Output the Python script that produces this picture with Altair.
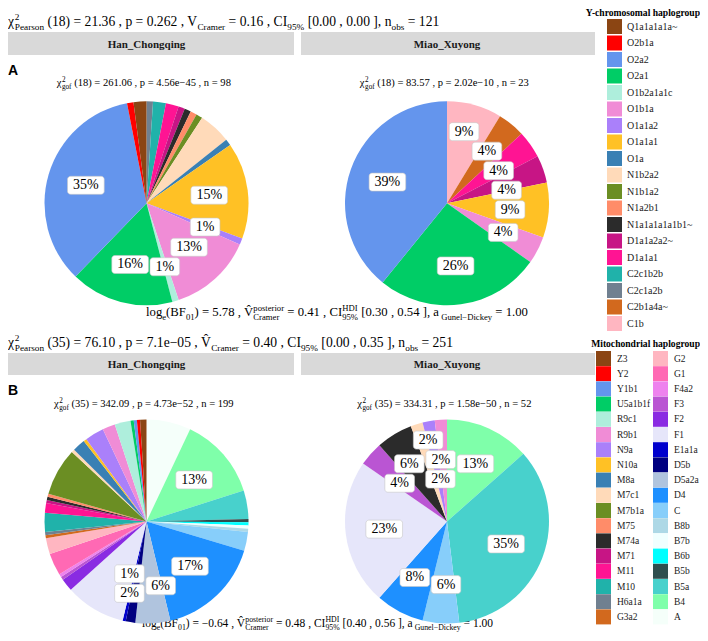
import math
import altair as alt
import pandas as pd

SERIF = "Liberation Serif"
SANS = "Liberation Sans"

# ---------------- data ----------------
groups = ["Han_Chongqing", "Miao_Xuyong"]
panel_tags = ["A", "B"]
legend_titles = ["Y-chromosomal haplogroup", "Mitochondrial haplogroup"]

y_haplogroups = ["Q1a1a1a1a~", "O2b1a", "O2a2", "O2a1", "O1b2a1a1c", "O1b1a", "O1a1a2",
                 "O1a1a1", "O1a", "N1b2a2", "N1b1a2", "N1a2b1", "N1a1a1a1a1b1~",
                 "D1a1a2a2~", "D1a1a1", "C2c1b2b", "C2c1a2b", "C2b1a4a~", "C1b"]
y_colors = ["#8B4513", "#FF0000", "#6495ED", "#00CD66", "#AEEEDC", "#F08CD6", "#AA80FA",
            "#FFC125", "#3A80B4", "#FFDAB9", "#6B8E23", "#FF8C69", "#2B2B2B",
            "#C71585", "#FF1493", "#20B2AA", "#708090", "#D2691E", "#FFB6C1"]
y_han_counts = [2, 1, 34, 16, 1, 13, 1, 15, 1, 5, 1, 1, 1, 1, 2, 2, 1, 0, 0]
y_miao_counts = [0, 0, 9, 6, 0, 1, 0, 2, 0, 0, 0, 0, 0, 1, 1, 0, 0, 1, 2]
y_han_labelled = ["O2a2", "O2a1", "O1b1a", "O1a1a1", "O1a1a2", "O1b2a1a1c"]
y_miao_labelled = ["C1b", "C2b1a4a~", "D1a1a1", "D1a1a2a2~", "O1a1a1", "O1b1a", "O2a1", "O2a2"]

mt_haplogroups = ["Z3", "Y2", "Y1b1", "U5a1b1f", "R9c1", "R9b1", "N9a", "N10a", "M8a",
                  "M7c1", "M7b1a", "M75", "M74a", "M71", "M11", "M10", "H6a1a", "G3a2",
                  "G2", "G1", "F4a2", "F3", "F2", "F1", "E1a1a", "D5b", "D5a2a", "D4",
                  "C", "B8b", "B7b", "B6b", "B5b", "B5a", "B4", "A"]
mt_colors = ["#8B4513", "#FF0000", "#6495ED", "#00CD66", "#AEEEDC", "#F08CD6", "#AA80FA",
             "#FFC125", "#3A80B4", "#FFDAB9", "#6B8E23", "#FF8C69", "#2B2B2B", "#C71585",
             "#FF1493", "#20B2AA", "#708090", "#D2691E", "#FFB6C1", "#FF69B4", "#EE82EE",
             "#BA55D3", "#8A2BE2", "#E6E6FA", "#0000CD", "#000080", "#B0C4DE", "#1E90FF",
             "#87CEFA", "#ADD8E6", "#F0FFFF", "#00FFFF", "#2F4F4F", "#48D1CC", "#7FFFAA",
             "#F5FFFA"]
mt_han_counts = [2, 1, 1, 1, 5, 4, 6, 1, 4, 1, 15, 1, 1, 1, 3, 6, 1, 1,
                 5, 7, 1, 1, 4, 19, 1, 3, 11, 33, 6, 1, 1, 1, 1, 9, 26, 14]
mt_miao_counts = [0, 0, 0, 0, 0, 1, 1, 0, 0, 1, 0, 0, 3, 0, 0, 0, 0, 0,
                  0, 0, 0, 2, 0, 12, 0, 0, 0, 4, 3, 0, 0, 0, 0, 18, 7, 0]
mt_han_labelled = ["B4", "D4", "D5a2a", "D5b", "E1a1a"]
mt_miao_labelled = ["B4", "B5a", "C", "D4", "F1", "F3", "M74a", "M7c1", "N9a", "R9b1"]

# statistics text (rich text parts: n = normal, sub, sup, ss = stacked sup/sub)
title_parts = [
    [("n", "χ"), ("ss", ("2", "Pearson")), ("n", " (18) = 21.36 , p = 0.262 , V"), ("sub", "Cramer"),
     ("n", " = 0.16 , CI"), ("sub", "95%"), ("n", " [0.00 , 0.00 ], n"), ("sub", "obs"), ("n", " = 121")],
    [("n", "χ"), ("ss", ("2", "Pearson")), ("n", " (35) = 76.10 , p = 7.1e−05 , V\u0302"), ("sub", "Cramer"),
     ("n", " = 0.40 , CI"), ("sub", "95%"), ("n", " [0.00 , 0.35 ], n"), ("sub", "obs"), ("n", " = 251")],
]
gof_parts = [
    [[("n", "χ"), ("ss", ("2", "gof")), ("n", " (18) = 261.06 ,  p = 4.56e−45 ,  n = 98")],
     [("n", "χ"), ("ss", ("2", "gof")), ("n", " (18) = 83.57 ,  p = 2.02e−10 ,  n = 23")]],
    [[("n", "χ"), ("ss", ("2", "gof")), ("n", " (35) = 342.09 ,  p = 4.73e−52 ,  n = 199")],
     [("n", "χ"), ("ss", ("2", "gof")), ("n", " (35) = 334.31 ,  p = 1.58e−50 ,  n = 52")]],
]
caption_parts = [
    [("n", "log"), ("sub", "e"), ("n", "(BF"), ("sub", "01"), ("n", ") = 5.78 , V\u0302"),
     ("ss", ("posterior", "Cramer")), ("n", " = 0.41 , CI"), ("ss", ("HDI", "95%")),
     ("n", " [0.30 , 0.54 ], a"), ("sub", " Gunel−Dickey"), ("n", " = 1.00")],
    [("n", "log"), ("sub", "e"), ("n", "(BF"), ("sub", "01"), ("n", ") = −0.64 , V\u0302"),
     ("ss", ("posterior", "Cramer")), ("n", " = 0.48 , CI"), ("ss", ("HDI", "95%")),
     ("n", " [0.40 , 0.56 ], a"), ("sub", " Gunel−Dickey"), ("n", " = 1.00")],
]

# ---------------- layout helpers ----------------
W, H = 692, 625
OFF = 8  # page margin


def P(v):
    return v - OFF


TIMES = {ch: 500 for ch in "0123456789"}
TIMES.update({" ": 250, "%": 833, "(": 333, ")": 333, ",": 250, ".": 250, "=": 564, "[": 333,
              "]": 333, "−": 564, "-": 333, "~": 541, "_": 500, "χ": 500, "\u0302": 0,
              "A": 722, "B": 667, "C": 667, "D": 722, "E": 611, "F": 556, "G": 722, "H": 722,
              "I": 333, "J": 389, "K": 722, "L": 611, "M": 889, "N": 722, "O": 722, "P": 556,
              "Q": 722, "R": 667, "S": 556, "T": 611, "U": 722, "V": 722, "W": 944, "X": 722,
              "Y": 722, "Z": 611, "a": 444, "b": 500, "c": 444, "d": 500, "e": 444, "f": 333,
              "g": 500, "h": 500, "i": 278, "j": 278, "k": 500, "l": 278, "m": 778, "n": 500,
              "o": 500, "p": 500, "q": 500, "r": 333, "s": 389, "t": 278, "u": 500, "v": 500,
              "w": 722, "x": 500, "y": 500, "z": 444})


def tw(s, size):
    return sum(TIMES.get(ch, 500) for ch in s) / 1000.0 * size


SMALL = 0.68


def rich_rows(parts, size):
    out, cx = [], 0.0
    for kind, t in parts:
        if kind == "n":
            segs = [(t, 0.0, size)]
        elif kind == "sub":
            segs = [(t, 0.30 * size, SMALL * size)]
        elif kind == "sup":
            segs = [(t, -0.42 * size, SMALL * size)]
        else:
            segs = [(t[0], -0.42 * size, SMALL * size), (t[1], 0.30 * size, SMALL * size)]
        adv = 0.0
        for txt, dy, s in segs:
            lead = len(txt) - len(txt.lstrip(" "))
            out.append(dict(dx=cx + tw(" " * lead, s), dy=dy, text=txt.strip(" "), size=s))
            adv = max(adv, tw(txt, s))
        cx += adv
    return out, cx


def rich(parts, y, x0=None, x1=None, xc=None, size=None):
    if size is None:
        _, w1 = rich_rows(parts, 1.0)
        size = (x1 - x0) / w1
    rows, w = rich_rows(parts, size)
    if x0 is None:
        x0 = xc - w / 2
    return [dict(x=P(x0) + r["dx"], y=P(y) + r["dy"], text=r["text"], size=r["size"]) for r in rows]


def text_layer(df, font=SERIF, weight="normal", align="left", baseline="alphabetic", color="black"):
    return alt.Chart(df).mark_text(font=font, fontWeight=weight, align=align,
                                   baseline=baseline, color=color).encode(
        x=alt.X("x:Q", scale=None, axis=None),
        y=alt.Y("y:Q", scale=None, axis=None),
        text="text:N",
        size=alt.Size("size:Q", scale=None, legend=None))


R = 102
panel_geo = {
    # page coordinates
    "A": dict(title_y=26, strip=(32, 55), tag_y=75, gof_y=86, pie_y=203.3, cap_y=316,
              cap_x=(146, 528)),
    "B": dict(title_y=347, strip=(353, 375), tag_y=395, gof_y=407, pie_y=521.5, cap_y=627,
              cap_x=(142, 493)),
}
pie_x = [146.5, 447.0]
strip_x = [(0, 294), (301, 595)]


def pie_layers(cats, colors, counts, labelled, cx, cy, legend, dom, rng):
    total = sum(counts)
    rows, k, cum = [], 0, 0
    for i in reversed(range(len(cats))):
        if counts[i] == 0:
            continue
        rows.append(dict(cat=cats[i], n=counts[i], frac=counts[i] / total, idx=k,
                         mid=(cum + counts[i] / 2) / total))
        cum += counts[i]
        k += 1
    df = pd.DataFrame(rows)
    arc = alt.Chart(df).mark_arc(radius=R, strokeWidth=0).encode(
        theta=alt.Theta("frac:Q", stack=True, scale=alt.Scale(domain=[0, 1])),
        order=alt.Order("idx:Q"),
        color=alt.Color("cat:N", scale=alt.Scale(domain=dom, range=rng), legend=legend),
        x=alt.value(P(cx)), y=alt.value(P(cy)),
    )
    # labels: start at slice mid angle, then push apart (simple repel)
    items = []
    for r in rows:
        if r["cat"] not in labelled:
            continue
        ang = 2 * math.pi * r["mid"]
        txt = f"{round(100 * r['n'] / total)}%"
        ax = P(cx) + 0.62 * R * math.sin(ang)
        ay = P(cy) - 0.62 * R * math.cos(ang)
        items.append(dict(text=txt, ax=ax, ay=ay, x=ax, y=ay, w=tw(txt, 14) + 11, h=18))
    for it_n in range(500):
        for i in range(len(items)):
            for j in range(i + 1, len(items)):
                a, b = items[i], items[j]
                ox = (a["w"] + b["w"]) / 2 + 1.5 - abs(a["x"] - b["x"])
                oy = (a["h"] + b["h"]) / 2 + 1.5 - abs(a["y"] - b["y"])
                if ox > 0 and oy > 0:
                    if ox < oy:
                        s = 1 if a["x"] >= b["x"] else -1
                        a["x"] += s * ox / 2
                        b["x"] -= s * ox / 2
                    else:
                        s = 1 if a["y"] >= b["y"] else -1
                        a["y"] += s * oy / 2
                        b["y"] -= s * oy / 2
        if it_n < 450:
            for it in items:
                it["x"] += 0.02 * (it["ax"] - it["x"])
                it["y"] += 0.02 * (it["ay"] - it["y"])
    lab = pd.DataFrame([dict(text=it["text"], x=it["x"], y=it["y"], size=14,
                             x0=it["x"] - it["w"] / 2, x1=it["x"] + it["w"] / 2,
                             y0=it["y"] - it["h"] / 2, y1=it["y"] + it["h"] / 2) for it in items])
    box = alt.Chart(lab).mark_rect(fill="white", stroke="#C8C8C8", strokeWidth=0.6,
                                   cornerRadius=3).encode(
        x=alt.X("x0:Q", scale=None, axis=None), x2="x1:Q",
        y=alt.Y("y0:Q", scale=None, axis=None), y2="y1:Q")
    txt = text_layer(lab, align="center", baseline="middle")
    return [arc, box, txt]


layers = []

# strips
strip_rows, strip_text = [], []
for tag in panel_tags:
    g = panel_geo[tag]
    for k, name in enumerate(groups):
        x0, x1 = strip_x[k]
        strip_rows.append(dict(x=max(P(x0), 0), x2=P(x1), y=P(g["strip"][0]), y2=P(g["strip"][1])))
        strip_text.append(dict(x=P(pie_x[k]), y=P((g["strip"][0] + g["strip"][1]) / 2 + 4),
                               text=name, size=11))
layers.append(alt.Chart(pd.DataFrame(strip_rows)).mark_rect(color="#D9D9D9").encode(
    x=alt.X("x:Q", scale=None, axis=None), x2="x2:Q",
    y=alt.Y("y:Q", scale=None, axis=None), y2="y2:Q"))
layers.append(text_layer(pd.DataFrame(strip_text), weight="bold", align="center", color="#1A1A1A"))

# tags A / B
layers.append(text_layer(pd.DataFrame([dict(x=0, y=P(panel_geo[t]["tag_y"]), text=t, size=14)
                                       for t in panel_tags]), font=SANS, weight="bold"))

# statistics text
rich_rows_all = []
_, w_title = rich_rows(title_parts[1], 1.0)
title_size = (452 - 7) / w_title
_, w_gof = rich_rows(gof_parts[1][0], 1.0)
gof_size = 185 / w_gof
for p, tag in enumerate(panel_tags):
    g = panel_geo[tag]
    rich_rows_all += rich(title_parts[p], g["title_y"], x0=8, size=title_size)
    for k in range(2):
        rich_rows_all += rich(gof_parts[p][k], g["gof_y"], xc=pie_x[k], size=gof_size)
    rich_rows_all += rich(caption_parts[p], g["cap_y"], x0=g["cap_x"][0], x1=g["cap_x"][1])
layers.append(text_layer(pd.DataFrame(rich_rows_all)))

# legends (Vega fills multi-column legends column by column)
y_leg = alt.Legend(orient="none", legendX=P(607), legendY=P(19), title=None, direction="vertical",
                   symbolType="square", symbolSize=225, symbolStrokeWidth=0, padding=0,
                   labelFont=SERIF, labelFontSize=10, labelOffset=5, rowPadding=1.5,
                   labelColor="#1A1A1A", symbolLimit=50)
mt_leg = alt.Legend(orient="none", legendX=P(596), legendY=P(351), title=None, direction="vertical",
                    columns=2, columnPadding=2, symbolType="square", symbolSize=225,
                    symbolStrokeWidth=0, padding=0, labelFont=SERIF, labelFontSize=9.5,
                    labelOffset=6, rowPadding=0.2, labelColor="#1A1A1A", symbolLimit=50)

layers += pie_layers(y_haplogroups, y_colors, y_han_counts, y_han_labelled, pie_x[0],
                     panel_geo["A"]["pie_y"], y_leg, y_haplogroups, y_colors)
layers += pie_layers(y_haplogroups, y_colors, y_miao_counts, y_miao_labelled, pie_x[1],
                     panel_geo["A"]["pie_y"], None, y_haplogroups, y_colors)
layers += pie_layers(mt_haplogroups, mt_colors, mt_han_counts, mt_han_labelled, pie_x[0],
                     panel_geo["B"]["pie_y"], mt_leg, mt_haplogroups, mt_colors)
layers += pie_layers(mt_haplogroups, mt_colors, mt_miao_counts, mt_miao_labelled, pie_x[1],
                     panel_geo["B"]["pie_y"], None, mt_haplogroups, mt_colors)

# legend titles
layers.append(text_layer(pd.DataFrame([
    dict(x=P(700), y=P(16), text=legend_titles[0], size=9.6),
    dict(x=P(700), y=P(347), text=legend_titles[1], size=9.6)]), weight="bold", align="right"))

chart = alt.layer(*layers).properties(
    width=W, height=H, padding=0, autosize=alt.AutoSizeParams(type="none"),
    background="white",
).resolve_scale(color="independent", theta="independent").configure_view(stroke=None)

chart.save("out.html", embed_options={"renderer": "svg", "actions": False})
